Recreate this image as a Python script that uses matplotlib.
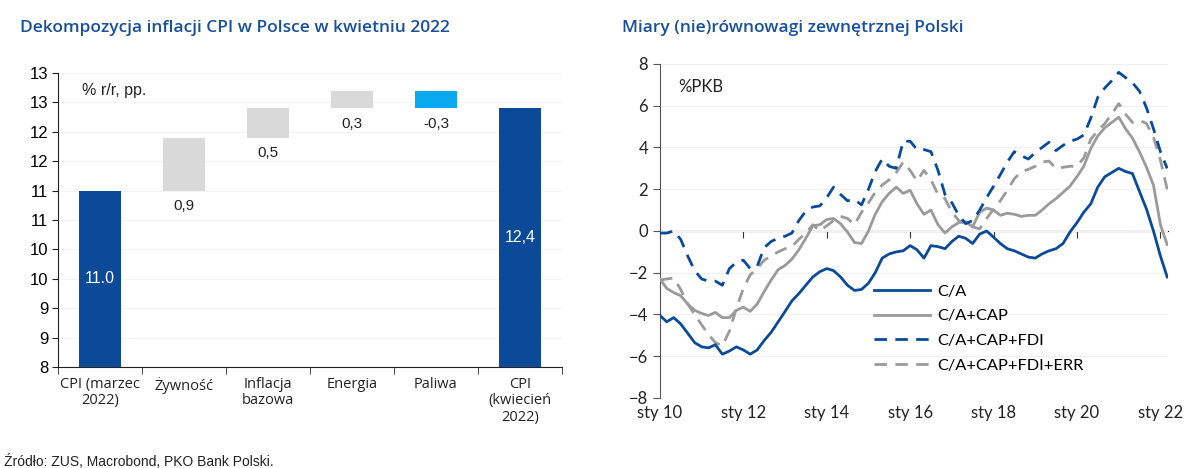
import math
import matplotlib
matplotlib.use('Agg')
import matplotlib.pyplot as plt
import pandas as pd
from matplotlib.ticker import FuncFormatter, MultipleLocator

# Left chart data: waterfall of CPI change
categories = ['CPI (marzec\n2022)', 'Żywność', 'Inflacja\nbazowa', 'Energia', 'Paliwa', 'CPI\n(kwiecień\n2022)']
cpi_start = 11.0
changes = [0.9, 0.5, 0.3, -0.3]
cpi_end = 12.4
value_labels = ['11.0', '0,9', '0,5', '0,3', '-0,3', '12,4']

# Right chart data: bimonthly, % of GDP
dates = pd.date_range('2010-01-01', '2022-03-01', freq='2MS')
ca = [-4.05, -4.35, -4.15, -4.45, -4.9, -5.35, -5.55, -5.6, -5.45, -5.9, -5.75, -5.55,
      -5.7, -5.9, -5.7, -5.25, -4.85, -4.35, -3.85, -3.35, -3.0, -2.6, -2.2, -1.95,
      -1.8, -1.9, -2.2, -2.6, -2.85, -2.8, -2.5, -2.0, -1.3, -1.1, -1.0, -0.95,
      -0.7, -0.9, -1.3, -0.7, -0.75, -0.85, -0.5, -0.25, -0.35, -0.6, -0.15, 0.0,
      -0.3, -0.6, -0.85, -0.95, -1.1, -1.25, -1.3, -1.1, -0.95, -0.85, -0.6, -0.05,
      0.4, 0.9, 1.3, 2.1, 2.6, 2.8, 3.0, 2.85, 2.75, 1.9, 1.05, 0.0,
      -1.2, -2.2]
ca_cap = [-2.3, -2.75, -2.95, -3.1, -3.5, -3.8, -3.95, -4.05, -3.9, -4.15, -4.15, -3.8,
          -3.65, -3.85, -3.5, -2.9, -2.35, -1.85, -1.65, -1.35, -0.9, -0.35, 0.25, 0.3,
          0.55, 0.6, 0.35, -0.05, -0.55, -0.6, 0.0, 0.8, 1.4, 1.8, 2.1, 1.8,
          1.95, 1.3, 0.8, 1.0, 0.3, -0.1, 0.2, 0.4, 0.45, 0.2, 0.9, 1.1,
          1.0, 0.75, 0.85, 0.8, 0.7, 0.75, 0.75, 1.0, 1.3, 1.55, 1.85, 2.15,
          2.6, 3.1, 3.95, 4.55, 4.95, 5.2, 5.45, 4.9, 4.45, 3.8, 3.05, 2.2,
          0.3, -0.65]
ca_cap_fdi = [-0.1, -0.1, 0.0, -0.4, -1.2, -1.9, -2.3, -2.4, -2.4, -2.6, -1.8, -1.5,
              -1.4, -1.8, -1.7, -0.8, -0.5, -0.35, -0.25, -0.1, 0.5, 0.95, 1.15, 1.2,
              1.6, 2.1, 1.75, 1.45, 1.5, 1.25, 2.0, 2.85, 3.45, 3.1, 3.0, 4.3,
              4.3, 3.9, 3.9, 3.8, 2.9, 1.75, 1.35, 0.75, 0.35, 0.5, 1.0, 1.6,
              2.15, 2.7, 3.3, 3.8, 3.6, 3.45, 3.75, 4.0, 4.25, 3.85, 4.1, 4.3,
              4.4, 4.6, 5.4, 6.4, 6.85, 7.2, 7.6, 7.35, 7.1, 6.7, 5.9, 4.9,
              3.8, 3.0]
ca_cap_fdi_err = [-2.35, -2.3, -2.25, -2.8, -3.5, -4.0, -4.5, -4.95, -5.35, -5.5, -4.8, -3.7,
                  -2.75, -2.1, -1.8, -1.4, -1.2, -1.0, -0.85, -0.75, -0.4, -0.1, 0.3, 0.0,
                  0.25, 0.5, 0.7, 0.6, 0.3, 0.9, 1.35, 1.85, 2.2, 2.45, 2.8, 3.3,
                  2.9, 2.4, 2.9, 2.45, 1.75, 1.55, 0.9, 0.5, 0.35, 0.2, 0.1, 0.6,
                  1.05, 1.45, 1.95, 2.5, 2.85, 2.95, 3.1, 3.3, 3.35, 3.0, 3.05, 3.1,
                  3.1, 3.5, 4.4, 4.8, 5.15, 5.6, 6.1, 5.6, 5.2, 5.3, 5.15, 4.5,
                  3.4, 2.0]
tick_years = [2010, 2012, 2014, 2016, 2018, 2020, 2022]

navy = '#0a4a98'
light_blue = '#0aa8ee'
bar_gray = '#d9d9d9'
line_gray = '#9a9a9a'
title_color = '#1a4f9c'

plt.rcParams['font.family'] = ['Open Sans', 'DejaVu Sans']

fig = plt.figure(figsize=(12, 4.68), dpi=100)

# ---------------- LEFT: waterfall ----------------
ax1 = fig.add_axes([0.0483, 0.2158, 0.42, 0.628])

x = list(range(len(categories)))
levels = [cpi_start]
for c in changes:
    levels.append(levels[-1] + c)
bottoms = [8] + [levels[i] for i in range(len(changes))]
heights = [cpi_start - 8] + changes
bottoms.append(8)
heights.append(cpi_end - 8)
colors = [navy] + [bar_gray if c > 0 else light_blue for c in changes] + [navy]

ax1.bar(x, heights, bottom=bottoms, width=0.5, color=colors, zorder=3)

for i in range(len(categories)):
    if i == 0 or i == len(categories) - 1:
        ax1.text(x[i], (bottoms[i] + bottoms[i] + heights[i]) / 2, value_labels[i],
                 ha='center', va='center', color='white', fontsize=11.5,
                 family=['Liberation Sans'], zorder=4)
    else:
        low = min(bottoms[i], bottoms[i] + heights[i])
        ax1.annotate(value_labels[i], (x[i], low), xytext=(0, -6), textcoords='offset points',
                     ha='center', va='top', fontsize=11, family=['Liberation Sans'], color='#222222')

ax1.set_xlim(-0.5, len(categories) - 0.5)
ax1.set_ylim(8, 13)
ax1.yaxis.set_major_locator(MultipleLocator(0.5))
ax1.yaxis.set_major_formatter(FuncFormatter(lambda v, p: '%d' % math.floor(v + 0.5)))
ax1.grid(axis='y', color='#f3f3f3', lw=0.8, zorder=0)
ax1.set_xticks(x)
ax1.set_xticklabels(categories, fontsize=10.5, color='#222222', linespacing=1.15)
ax1.set_xticks([i - 0.5 for i in range(len(categories) + 1)], minor=True)
ax1.tick_params(axis='x', which='major', length=0, pad=7)
ax1.tick_params(axis='x', which='minor', length=5, direction='out', color='#222222')
ax1.tick_params(axis='y', length=4, color='#222222', labelsize=12, pad=3)
for lab in ax1.get_yticklabels():
    lab.set_family(['Liberation Sans'])
for s in ['top', 'right']:
    ax1.spines[s].set_visible(False)
ax1.spines['left'].set_color('#222222')
ax1.spines['bottom'].set_color('#222222')
ax1.text(0.048, 0.94, '% r/r, pp.', transform=ax1.transAxes, fontsize=11.5, va='center',
         family=['Liberation Sans'], color='#222222')

fig.text(0.017, 0.94, 'Dekompozycja inflacji CPI w Polsce w kwietniu 2022', fontsize=12.5,
         color=title_color, fontweight='semibold', va='center')
fig.text(0.003, 0.013, 'Źródło: ZUS, Macrobond, PKO Bank Polski.', fontsize=10, color='#222222',
         va='center', family=['Liberation Sans'])

# ---------------- RIGHT: lines ----------------
ax2 = fig.add_axes([0.55, 0.1496, 0.4233, 0.7137])
ax2.plot(dates, ca, color=navy, lw=2, label='C/A', zorder=4)
ax2.plot(dates, ca_cap, color=line_gray, lw=2, label='C/A+CAP', zorder=3)
ax2.plot(dates, ca_cap_fdi, color=navy, lw=2, dashes=(4.5, 3), label='C/A+CAP+FDI', zorder=3)
ax2.plot(dates, ca_cap_fdi_err, color=line_gray, lw=2, dashes=(4.5, 3), label='C/A+CAP+FDI+ERR', zorder=2)

tick_dates = [pd.Timestamp(year=y, month=1, day=1) for y in tick_years]
ax2.set_xlim(pd.Timestamp('2010-01-01'), pd.Timestamp('2022-03-08'))
ax2.set_ylim(-8, 8)
ax2.yaxis.set_major_locator(MultipleLocator(2))
ax2.set_xticks(tick_dates)
ax2.set_xticklabels(['sty %02d' % (y % 100) for y in tick_years])
ax2.tick_params(axis='x', length=0, pad=5, labelsize=12, colors='#222222')
ax2.tick_params(axis='y', length=5, color='#555555', labelsize=12, labelcolor='#222222')
for lab in ax2.get_xticklabels() + ax2.get_yticklabels():
    lab.set_family(['Lato'])
ax2.grid(axis='y', color='#f0f0f0', lw=0.8, zorder=0)
for s in ['top', 'right', 'bottom']:
    ax2.spines[s].set_visible(False)
ax2.spines['left'].set_color('#555555')

zero_axis = ax2.secondary_xaxis(0.5)
zero_axis.set_xticks(tick_dates)
zero_axis.set_xticklabels([])
zero_axis.tick_params(axis='x', direction='in', length=5, color='#333333')
zero_axis.spines['bottom'].set_color('#333333')
zero_axis.spines['bottom'].set_linewidth(0.9)

ax2.text(0.035, 0.93, '%PKB', transform=ax2.transAxes, fontsize=12, va='center',
         family=['Lato'], color='#222222')
ax2.legend(loc='upper left', bbox_to_anchor=(0.393, 0.385), frameon=False,
           handlelength=3.4, handletextpad=0.45, labelspacing=0.62,
           prop={'family': 'Lato', 'size': 11.8})

fig.text(0.518, 0.94, 'Miary (nie)równowagi zewnętrznej Polski', fontsize=12.5,
         color=title_color, fontweight='semibold', va='center')

fig.savefig('out.png', dpi=100)
